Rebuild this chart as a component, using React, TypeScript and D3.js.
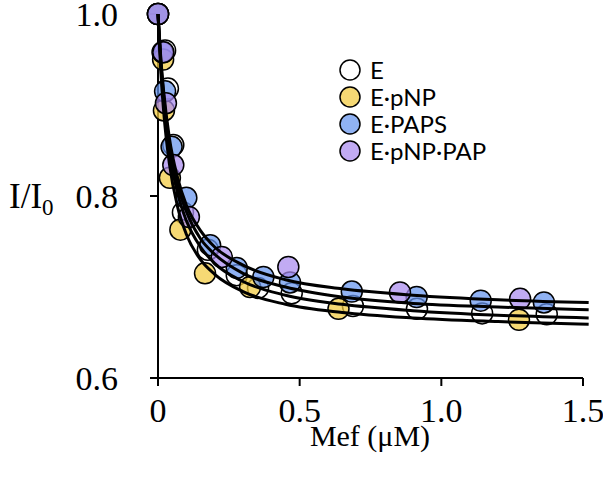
import React, { useEffect, useRef } from 'react';
import * as d3 from 'd3';

// series
const seriesNames = ['E', 'E·pNP', 'E·PAPS', 'E·pNP·PAP'];
const seriesFills = ['none', '#f2ca3e', '#6594ee', '#a98aee'];

const eX = [0, 0.025, 0.035, 0.054, 0.088, 0.176, 0.278, 0.353, 0.472, 0.688, 0.914, 1.144, 1.372];
const eY = [1.0, 0.96, 0.918, 0.856, 0.782, 0.741, 0.713, 0.699, 0.693, 0.679, 0.676, 0.671, 0.670];

const pnpX = [0, 0.018, 0.021, 0.042, 0.079, 0.166, 0.325, 0.637, 1.274];
const pnpY = [1.0, 0.95, 0.894, 0.82, 0.763, 0.715, 0.70, 0.676, 0.664];

const papsX = [0, 0.016, 0.025, 0.048, 0.1, 0.184, 0.278, 0.372, 0.466, 0.684, 0.913, 1.139, 1.362];
const papsY = [1.0, 0.958, 0.915, 0.854, 0.798, 0.746, 0.721, 0.711, 0.705, 0.695, 0.689, 0.685, 0.683];

const papX = [0, 0.019, 0.028, 0.054, 0.109, 0.225, 0.46, 0.854, 1.278];
const papY = [1.0, 0.958, 0.902, 0.834, 0.777, 0.733, 0.722, 0.694, 0.687];

// fitted lines, sampled off the figure
const curveX = [0, 0.01, 0.02, 0.04, 0.07, 0.1, 0.15, 0.2, 0.3, 0.45, 0.65, 0.9, 1.2, 1.52];
const fitE = [1.0, 0.944, 0.904, 0.850, 0.802, 0.773, 0.744, 0.726, 0.706, 0.691, 0.681, 0.674, 0.669, 0.666];
const fitPnp = [1.0, 0.937, 0.893, 0.836, 0.787, 0.758, 0.730, 0.714, 0.695, 0.681, 0.672, 0.666, 0.662, 0.659];
const fitPaps = [1.0, 0.951, 0.915, 0.864, 0.819, 0.790, 0.762, 0.744, 0.724, 0.708, 0.698, 0.691, 0.686, 0.683];
const fitPap = [1.0, 0.948, 0.910, 0.858, 0.811, 0.783, 0.753, 0.736, 0.715, 0.700, 0.689, 0.682, 0.678, 0.675];

const xTicks = [0, 0.5, 1.0, 1.5];
const xTickLabels = ['0', '0.5', '1.0', '1.5'];
const yTicks = [0.6, 0.8, 1.0];
const yTickLabels = ['0.6', '0.8', '1.0'];

export default function App() {
  const svgRef = useRef<SVGSVGElement>(null);

  useEffect(() => {
    const svg = d3.select(svgRef.current);
    svg.selectAll('*').remove();

    const x = d3.scaleLinear().domain([0, 1.5]).range([158, 583]);
    const y = d3.scaleLinear().domain([0.6, 1.0]).range([378, 14]);

    const serif = '"Liberation Serif", "Times New Roman", serif';
    const sans = 'Lato, "Open Sans", sans-serif';

    // axes
    const axes = svg.append('g').attr('stroke', 'black').attr('stroke-width', 2);
    axes.append('line')
      .attr('x1', x(0)).attr('x2', x(0))
      .attr('y1', y(1.0)).attr('y2', y(0.6) + 8);
    axes.append('line')
      .attr('x1', x(0) - 8).attr('x2', x(1.5))
      .attr('y1', y(0.6)).attr('y2', y(0.6));
    axes.selectAll('.xt').data(xTicks).enter().append('line')
      .attr('x1', d => x(d)).attr('x2', d => x(d))
      .attr('y1', y(0.6)).attr('y2', y(0.6) + 8);
    axes.selectAll('.yt').data(yTicks).enter().append('line')
      .attr('x1', x(0) - 8).attr('x2', x(0))
      .attr('y1', d => y(d)).attr('y2', d => y(d));

    svg.selectAll('.xl').data(xTicks).enter().append('text')
      .attr('x', d => x(d))
      .attr('y', 422)
      .attr('text-anchor', 'middle')
      .attr('font-family', serif)
      .attr('font-size', 34)
      .text((d, i) => xTickLabels[i]);

    svg.selectAll('.yl').data(yTicks).enter().append('text')
      .attr('x', 118)
      .attr('y', d => y(d) + 12)
      .attr('text-anchor', 'end')
      .attr('font-family', serif)
      .attr('font-size', 34)
      .text((d, i) => yTickLabels[i]);

    const yTitle = svg.append('text')
      .attr('x', 9).attr('y', 208)
      .attr('font-family', serif)
      .attr('font-size', 35);
    yTitle.append('tspan').text('I/I');
    yTitle.append('tspan').attr('font-size', 23).attr('dy', 7).text('0');

    svg.append('text')
      .attr('x', 370).attr('y', 446)
      .attr('text-anchor', 'middle')
      .attr('font-family', serif)
      .attr('font-size', 30)
      .text('Mef (\u03bcM)');

    // markers
    const allX = [eX, pnpX, papsX, papX];
    const allY = [eY, pnpY, papsY, papY];
    allX.forEach((xs, s) => {
      svg.append('g').selectAll('circle')
        .data(xs).enter().append('circle')
        .attr('cx', d => x(d))
        .attr('cy', (d, i) => y(allY[s][i]))
        .attr('r', 10.5)
        .attr('fill', seriesFills[s])
        .attr('fill-opacity', 0.72)
        .attr('stroke', 'black')
        .attr('stroke-width', 1.5);
    });

    // fitted lines
    const line = d3.line<number>()
      .x((d, i) => x(curveX[i]))
      .y(d => y(d))
      .curve(d3.curveMonotoneX);
    [fitE, fitPnp, fitPaps, fitPap].forEach(f => {
      svg.append('path')
        .attr('d', line(f))
        .attr('fill', 'none')
        .attr('stroke', 'black')
        .attr('stroke-width', 3);
    });

    // legend
    const legend = svg.append('g');
    seriesNames.forEach((name, i) => {
      const ly = 70 + i * 27;
      legend.append('circle')
        .attr('cx', 350).attr('cy', ly).attr('r', 10)
        .attr('fill', seriesFills[i])
        .attr('fill-opacity', 0.72)
        .attr('stroke', 'black')
        .attr('stroke-width', 1.5);
      legend.append('text')
        .attr('x', 370).attr('y', ly + 9)
        .attr('font-family', sans)
        .attr('font-size', 24)
        .text(name);
    });
  }, []);

  return (
    <svg ref={svgRef} width={603} height={477}
      style={{ position: 'absolute', left: 0, top: 0, background: 'white' }} />
  );
}
